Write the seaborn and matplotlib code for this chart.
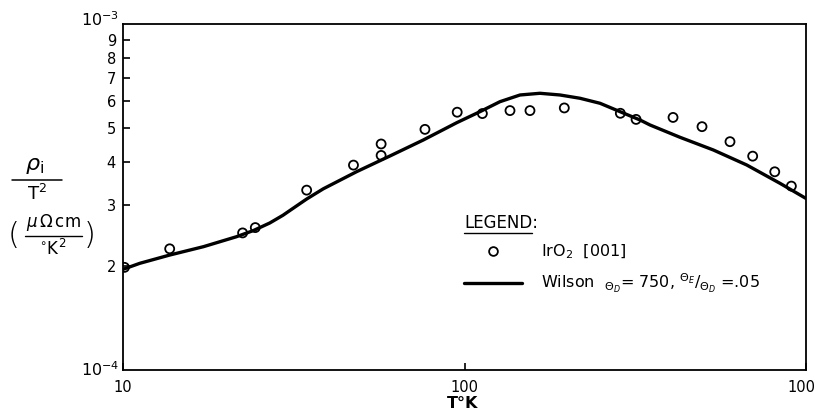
import numpy as np
import pandas as pd
import matplotlib
matplotlib.use("Agg")
import matplotlib.pyplot as plt
from matplotlib.lines import Line2D
from matplotlib.ticker import FixedLocator, NullLocator, FixedFormatter, NullFormatter
import seaborn as sns

# Measured IrO2 [001] points: temperature (K) and rho_i / T^2 (units of 1e-4)
T_obs = [10.1, 13.7, 22.4, 24.4, 34.5, 47.3, 57.0, 57.0, 76.6, 95.2, 112.8,
         135.9, 155.5, 196, 286, 318, 408, 496, 599, 698, 810, 906]
rho_obs = [1.98, 2.24, 2.49, 2.58, 3.31, 3.91, 4.50, 4.17, 4.96, 5.56, 5.51,
           5.62, 5.62, 5.72, 5.52, 5.30, 5.37, 5.05, 4.57, 4.15, 3.74, 3.40]

# Wilson fit curve (Theta_D = 750, Theta_E/Theta_D = .05)
T_fit = [10, 11.2, 13.7, 17.2, 21.5, 24.1, 26.9, 29.4, 30.8, 34.5, 38.6, 48.3,
         60.5, 75.7, 94.9, 111.0, 127.0, 145.4, 166.3, 190.4, 217.9, 249.4,
         285.4, 326.6, 349.3, 427.6, 535.4, 670.6, 839.0, 1000]
rho_fit = [1.954, 2.034, 2.149, 2.272, 2.428, 2.53, 2.66, 2.80, 2.89, 3.12,
           3.34, 3.742, 4.155, 4.620, 5.185, 5.580, 5.963, 6.235, 6.306, 6.235,
           6.100, 5.900, 5.580, 5.279, 5.107, 4.705, 4.324, 3.913, 3.464, 3.132]

y_minor_labels = ["2", "3", "4", "5", "6", "7", "8", "9"]
y_decade_labels = [r"$10^{-4}$", r"$10^{-3}$"]

obs = pd.DataFrame({"T": T_obs, "rho": np.array(rho_obs) * 1e-4})
fit = pd.DataFrame({"T": T_fit, "rho": np.array(rho_fit) * 1e-4})

sns.set_style("ticks")
plt.rcParams["font.family"] = ["DejaVu Sans"]
plt.rcParams["mathtext.fontset"] = "dejavusans"
plt.rcParams["text.color"] = "black"

W, H = 814, 412
fig = plt.figure(figsize=(W / 100, H / 100), dpi=100)
ax = fig.add_axes([123 / W, 1 - 370 / H, (806 - 123) / W, (370 - 24) / H])


def fx(px):
    return px / W


def fy(py):
    return 1 - py / H


sns.lineplot(data=fit, x="T", y="rho", ax=ax, color="black", lw=2.4,
             sort=True, legend=False)
sns.scatterplot(data=obs, x="T", y="rho", ax=ax, marker="o", s=42,
                facecolor="none", edgecolor="black", linewidth=1.3,
                legend=False, zorder=3)

ax.set_xscale("log")
ax.set_yscale("log")
ax.set_xlim(10, 1000)
ax.set_ylim(1e-4, 1e-3)

for s in ax.spines.values():
    s.set_linewidth(1.3)
    s.set_color("black")

ax.xaxis.set_major_locator(FixedLocator([10, 100, 1000]))
ax.xaxis.set_minor_locator(NullLocator())
ax.set_xticklabels(["10", "100", "1000"])
ax.yaxis.set_major_locator(FixedLocator([1e-4, 1e-3]))
ax.yaxis.set_major_formatter(NullFormatter())
ax.yaxis.set_minor_locator(FixedLocator([k * 1e-4 for k in range(2, 10)]))
ax.yaxis.set_minor_formatter(FixedFormatter(y_minor_labels))

ax.tick_params(axis="both", which="both", direction="in", color="black",
               width=1.2, labelcolor="black")
ax.tick_params(axis="y", which="major", length=0)
ax.tick_params(axis="y", which="minor", length=5, pad=5, labelsize=10.5)
ax.tick_params(axis="x", which="major", length=5, pad=7, labelsize=10.5)

# Decade labels on the y axis, set just left of the axis line
for val, lab, dy in zip([1e-4, 1e-3], y_decade_labels, [0, 4]):
    ax.annotate(lab, xy=(0, val), xycoords=("axes fraction", "data"),
                xytext=(-4, dy), textcoords="offset pixels",
                ha="right", va="center", fontsize=11.5)

ax.set_xlabel("")
ax.set_ylabel("")
fig.text(fx(463), fy(411), "T\u00b0K", fontsize=11.5, fontweight="bold",
         ha="center", va="bottom")

# Vertical axis label: rho_i over T^2, then the units in parentheses
fig.text(fx(35), fy(176), r"$\rho_{\mathrm{i}}$", fontsize=16,
         ha="center", va="bottom")
fig.add_artist(Line2D([fx(12), fx(62)], [fy(180), fy(180)],
                      transform=fig.transFigure, color="black", lw=1.1))
fig.text(fx(37), fy(184), r"T$^2$", fontsize=13, ha="center", va="top")

fig.text(fx(53), fy(233), r"$\mu\,\Omega\,$cm", fontsize=12,
         ha="center", va="bottom")
fig.add_artist(Line2D([fx(25), fx(82)], [fy(236), fy(236)],
                      transform=fig.transFigure, color="black", lw=1.0))
fig.text(fx(53), fy(239), r"$^{\circ}$K$^2$", fontsize=12,
         ha="center", va="top")
fig.text(fx(14), fy(235), "(", fontsize=22, fontweight="light",
         ha="center", va="center")
fig.text(fx(90), fy(235), ")", fontsize=22, fontweight="light",
         ha="center", va="center")

# Legend block
line_h = Line2D([], [], color="black", lw=2.4)
pt_h = Line2D([], [], ls="none", marker="o", markersize=6.3,
              markerfacecolor="none", markeredgecolor="black", markeredgewidth=1.3)
leg = ax.legend(
    [pt_h, line_h],
    [r"IrO$_2$  [001]",
     r"Wilson  $_{\Theta_D}$= 750, $^{\Theta_E}/_{\Theta_D}$ =.05"],
    loc="upper left", bbox_to_anchor=(fx(450), fy(200)),
    bbox_transform=fig.transFigure, frameon=False, title="LEGEND:",
    alignment="left", handlelength=3.6, handletextpad=1.2,
    labelspacing=0.65, fontsize=11.5, title_fontsize=12, labelcolor="black")
leg.get_title().set_color("black")

fig.canvas.draw()
tb = leg.get_title().get_window_extent(fig.canvas.get_renderer())
fig.add_artist(Line2D([tb.x0 / W, (tb.x1 - 6) / W],
                      [(tb.y0 - 1) / H, (tb.y0 - 1) / H],
                      transform=fig.transFigure, color="black", lw=1.0))

fig.savefig("out.png", dpi=100, facecolor="white")
